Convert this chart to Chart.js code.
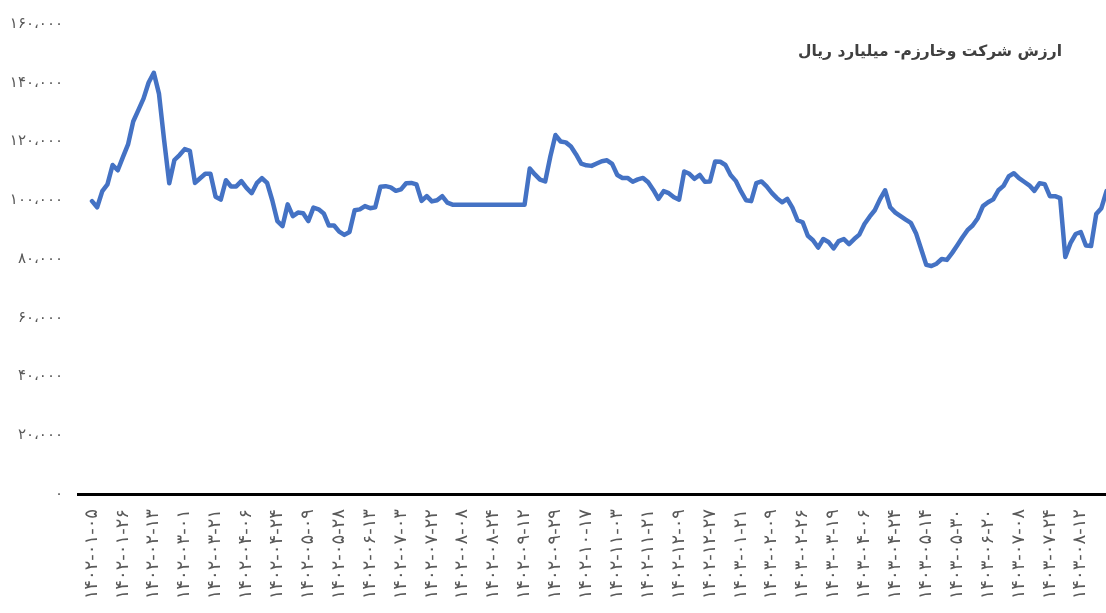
<!DOCTYPE html>
<html>
<head>
<meta charset="utf-8">
<script src="https://cdn.jsdelivr.net/npm/chart.js@4.4.1/dist/chart.umd.min.js"></script>
<style>
  html, body { margin: 0; padding: 0; background: #fff; }
</style>
</head>
<body>
<canvas id="myChart" width="1106" height="613"></canvas>
<script>
// عنوان نمودار
const chartTitle = 'ارزش شرکت وخارزم- میلیارد ریال';

// تاریخ‌هایی که روی محور افقی نوشته شده (هر ۶ نقطه یک برچسب)
const tickDates = [
  '۱۴۰۲-۰۱-۰۵', '۱۴۰۲-۰۱-۲۶', '۱۴۰۲-۰۲-۱۳', '۱۴۰۲-۰۳-۰۱', '۱۴۰۲-۰۳-۲۱',
  '۱۴۰۲-۰۴-۰۶', '۱۴۰۲-۰۴-۲۴', '۱۴۰۲-۰۵-۰۹', '۱۴۰۲-۰۵-۲۸', '۱۴۰۲-۰۶-۱۳',
  '۱۴۰۲-۰۷-۰۳', '۱۴۰۲-۰۷-۲۲', '۱۴۰۲-۰۸-۰۸', '۱۴۰۲-۰۸-۲۴', '۱۴۰۲-۰۹-۱۲',
  '۱۴۰۲-۰۹-۲۹', '۱۴۰۲-۱۰-۱۷', '۱۴۰۲-۱۱-۰۳', '۱۴۰۲-۱۱-۲۱', '۱۴۰۲-۱۲-۰۹',
  '۱۴۰۲-۱۲-۲۷', '۱۴۰۳-۰۱-۲۱', '۱۴۰۳-۰۲-۰۹', '۱۴۰۳-۰۲-۲۶', '۱۴۰۳-۰۳-۱۹',
  '۱۴۰۳-۰۴-۰۶', '۱۴۰۳-۰۴-۲۴', '۱۴۰۳-۰۵-۱۴', '۱۴۰۳-۰۵-۳۰', '۱۴۰۳-۰۶-۲۰',
  '۱۴۰۳-۰۷-۰۸', '۱۴۰۳-۰۷-۲۴', '۱۴۰۳-۰۸-۱۲'
];
const pointsPerLabel = 6;

// برچسب‌های محور عمودی
const yTickLabels = ['۰', '۲۰،۰۰۰', '۴۰،۰۰۰', '۶۰،۰۰۰', '۸۰،۰۰۰', '۱۰۰،۰۰۰', '۱۲۰،۰۰۰', '۱۴۰،۰۰۰', '۱۶۰،۰۰۰'];
const yStep = 20000;

// ارزش شرکت (میلیارد ریال)، خوانده شده از نمودار
const values = [
  99700, 97600, 103100, 105400, 112000, 110200, 114700, 119000, 126800, 130700,
  134600, 140100, 143400, 136300, 120500, 105800, 113700, 115400, 117400, 116800,
  105900, 107500, 109000, 109000, 101200, 100200, 106800, 104700, 104700, 106500,
  104200, 102400, 105800, 107500, 105900, 100000, 92900, 91200, 98600, 94600,
  95800, 95600, 92900, 97500, 96900, 95500, 91400, 91400, 89300, 88200,
  89200, 96600, 96900, 98000, 97300, 97600, 104600, 104800, 104400, 103200,
  103700, 105800, 105900, 105400, 99800, 101400, 99600, 100000, 101400, 99200,
  98500, 98500, 98500, 98500, 98500, 98500, 98500, 98500, 98500, 98500,
  98500, 98500, 98500, 98500, 98500, 110800, 108800, 107000, 106400, 114900,
  122200, 120000, 119700, 118300, 115600, 112500, 111900, 111700, 112500, 113300,
  113600, 112400, 108600, 107600, 107600, 106300, 107100, 107600, 106100, 103500,
  100500, 103100, 102400, 101000, 100200, 109800, 109000, 107300, 108600, 106300,
  106400, 113200, 113100, 112000, 108600, 106600, 103100, 100000, 99700, 105800,
  106400, 104700, 102500, 100700, 99300, 100500, 97500, 93200, 92500, 87900,
  86400, 83900, 86800, 85800, 83600, 86100, 86800, 85100, 86800, 88300,
  91900, 94400, 96600, 100300, 103400, 97600, 95800, 94600, 93400, 92300,
  88800, 83400, 78000, 77600, 78400, 80000, 79700, 82000, 84600, 87300,
  89800, 91400, 93900, 98000, 99300, 100300, 103400, 104900, 108100, 109200,
  107500, 106300, 105100, 103200, 105800, 105500, 101400, 101400, 100700, 80700,
  85400, 88500, 89200, 84600, 84400, 95300, 97300, 103100
];

const points = values.map((v, i) => ({ x: i, y: v }));

const titlePlugin = {
  id: 'cornerTitle',
  afterDraw(chart) {
    const ctx = chart.ctx;
    ctx.save();
    ctx.font = 'bold 15.5px "DejaVu Sans"';
    ctx.fillStyle = '#404040';
    ctx.direction = 'rtl';
    ctx.textAlign = 'right';
    ctx.textBaseline = 'middle';
    ctx.fillText(chartTitle, 1062, 52);
    ctx.restore();
  }
};

const ctx = document.getElementById('myChart').getContext('2d');
const chart = new Chart(ctx, {
  type: 'line',
  data: {
    datasets: [{
      data: points,
      borderColor: '#4472C4',
      borderWidth: 4.5,
      pointRadius: 0,
      tension: 0,
      borderJoinStyle: 'round',
      borderCapStyle: 'round',
      fill: false
    }]
  },
  options: {
    responsive: false,
    animation: false,
    layout: { padding: { top: 22, right: 0, left: 0, bottom: 0 } },
    plugins: {
      legend: { display: false },
      tooltip: { enabled: false }
    },
    scales: {
      x: {
        type: 'linear',
        min: -2.72,
        max: 196.9,
        grid: { display: false, drawTicks: false },
        border: { display: true, color: '#000000', width: 3 },
        afterFit: (scale) => {
          scale.height = 119;
          scale.paddingLeft = 0;
          scale.paddingRight = 0;
        },
        ticks: {
          stepSize: pointsPerLabel,
          includeBounds: false,
          autoSkip: false,
          minRotation: 90,
          maxRotation: 90,
          padding: 15,
          color: '#595959',
          font: { family: 'DejaVu Sans', size: 18 },
          callback: (value) => {
            const k = value / pointsPerLabel;
            return Number.isInteger(k) && tickDates[k] ? tickDates[k] : '';
          }
        }
      },
      y: {
        min: 0,
        max: 160000,
        grid: { display: false, drawTicks: false },
        border: { display: false },
        afterFit: (scale) => { scale.width = 78; },
        ticks: {
          stepSize: yStep,
          padding: 15,
          color: '#595959',
          font: { family: 'DejaVu Sans', size: 15 },
          callback: (value) => yTickLabels[Math.round(value / yStep)]
        }
      }
    }
  },
  plugins: [titlePlugin]
});
</script>
</body>
</html>
